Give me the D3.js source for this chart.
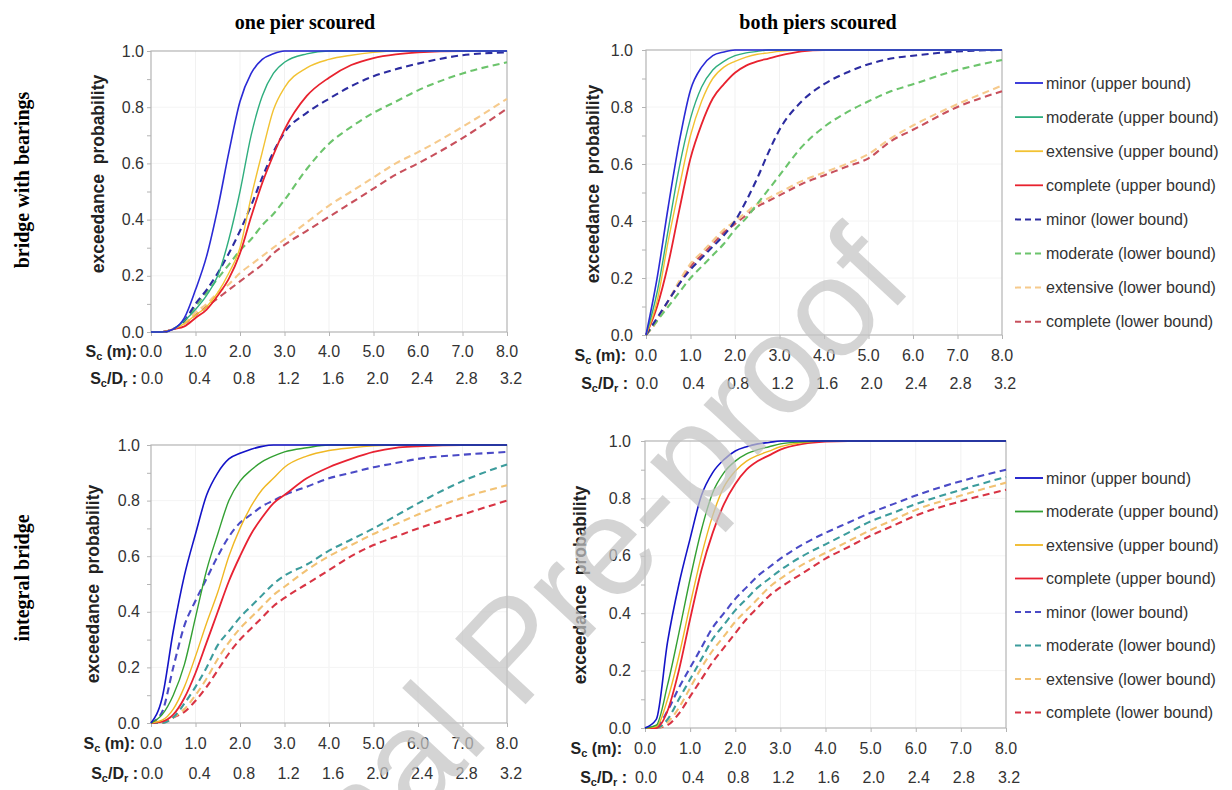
<!DOCTYPE html>
<html>
<head>
<meta charset="utf-8">
<script src="https://cdn.jsdelivr.net/npm/d3@7/dist/d3.min.js"></script>
<style>
  html, body { margin: 0; padding: 0; background: #fff; }
  svg { display: block; }
</style>
</head>
<body>
<svg id="chart" width="1232" height="790"></svg>
<script>
// ---------------- DATA ----------------
const sx = [0, 0.25, 0.5, 0.75, 1, 1.25, 1.5, 1.75, 2, 2.25, 2.5, 2.75, 3, 3.5, 4, 4.5, 5, 5.5, 6, 7, 8];
const xTickSc = ["0.0","1.0","2.0","3.0","4.0","5.0","6.0","7.0","8.0"];
const xTickRatio = ["0.0","0.4","0.8","1.2","1.6","2.0","2.4","2.8","3.2"];
const yTicks = [0, 0.2, 0.4, 0.6, 0.8, 1.0];
const colTitles = ["one pier scoured", "both piers scoured"];
const rowTitles = ["bridge with bearings", "integral bridge"];
const seriesNames = ["minor (upper bound)", "moderate (upper bound)", "extensive (upper bound)", "complete (upper bound)",
                     "minor (lower bound)", "moderate (lower bound)", "extensive (lower bound)", "complete (lower bound)"];

// bridge with bearings, one pier scoured
const bOneMinorUB = [0,0,0.01,0.05,0.15,0.27,0.44,0.64,0.82,0.92,0.97,0.99,1,1,1,1,1,1,1,1,1];
const bOneModerateUB = [0,0,0.01,0.04,0.08,0.13,0.2,0.33,0.5,0.7,0.84,0.92,0.96,0.99,1,1,1,1,1,1,1];
const bOneExtensiveUB = [0,0,0.01,0.03,0.06,0.09,0.14,0.21,0.3,0.48,0.64,0.79,0.87,0.94,0.97,0.985,0.995,1,1,1,1];
const bOneCompleteUB = [0,0,0.01,0.02,0.05,0.08,0.13,0.19,0.28,0.41,0.53,0.63,0.72,0.84,0.905,0.95,0.975,0.988,0.995,1,1];
const bOneMinorLB = [0,0,0.01,0.04,0.1,0.15,0.21,0.28,0.36,0.45,0.55,0.64,0.71,0.78,0.83,0.875,0.91,0.935,0.955,0.985,0.995];
const bOneModerateLB = [0,0,0.01,0.04,0.09,0.14,0.19,0.24,0.29,0.33,0.38,0.42,0.47,0.58,0.67,0.73,0.78,0.82,0.86,0.92,0.96];
const bOneExtensiveLB = [0,0,0.01,0.03,0.07,0.1,0.14,0.17,0.21,0.24,0.27,0.3,0.33,0.39,0.45,0.5,0.55,0.6,0.64,0.73,0.83];
const bOneCompleteLB = [0,0,0.01,0.03,0.06,0.09,0.12,0.15,0.18,0.21,0.24,0.28,0.31,0.36,0.41,0.46,0.51,0.56,0.6,0.69,0.795];

// bridge with bearings, both piers scoured
const bBothMinorUB = [0,0.2,0.45,0.68,0.86,0.94,0.98,0.993,1,1,1,1,1,1,1,1,1,1,1,1,1];
const bBothModerateUB = [0,0.15,0.37,0.59,0.76,0.87,0.93,0.96,0.98,0.99,0.995,1,1,1,1,1,1,1,1,1,1];
const bBothExtensiveUB = [0,0.12,0.33,0.52,0.7,0.82,0.9,0.94,0.96,0.975,0.985,0.99,0.995,1,1,1,1,1,1,1,1];
const bBothCompleteUB = [0,0.1,0.25,0.44,0.62,0.74,0.83,0.88,0.92,0.945,0.96,0.97,0.98,0.995,1,1,1,1,1,1,1];
const bBothMinorLB = [0,0.06,0.12,0.18,0.23,0.27,0.31,0.35,0.4,0.47,0.55,0.64,0.72,0.82,0.88,0.92,0.95,0.97,0.98,0.995,1];
const bBothModerateLB = [0,0.05,0.1,0.15,0.2,0.24,0.28,0.32,0.37,0.41,0.46,0.51,0.56,0.66,0.73,0.78,0.82,0.855,0.88,0.93,0.965];
const bBothExtensiveLB = [0,0.05,0.12,0.19,0.25,0.29,0.33,0.37,0.4,0.43,0.46,0.48,0.5,0.54,0.57,0.6,0.635,0.69,0.735,0.81,0.875];
const bBothCompleteLB = [0,0.05,0.12,0.18,0.24,0.28,0.32,0.36,0.39,0.42,0.45,0.47,0.49,0.53,0.56,0.59,0.62,0.68,0.72,0.8,0.855];

// integral bridge, one pier scoured
const iOneMinorUB = [0,0.09,0.33,0.53,0.68,0.82,0.9,0.95,0.97,0.985,0.995,1,1,1,1,1,1,1,1,1,1];
const iOneModerateUB = [0,0.03,0.1,0.21,0.38,0.55,0.68,0.8,0.87,0.91,0.94,0.96,0.975,0.99,1,1,1,1,1,1,1];
const iOneExtensiveUB = [0,0.01,0.05,0.13,0.24,0.36,0.47,0.6,0.7,0.78,0.84,0.88,0.92,0.96,0.98,0.99,0.997,1,1,1,1];
const iOneCompleteUB = [0,0.005,0.03,0.09,0.18,0.29,0.4,0.51,0.6,0.68,0.74,0.79,0.82,0.88,0.92,0.95,0.975,0.99,0.995,1,1];
const iOneMinorLB = [0,0.04,0.2,0.35,0.44,0.52,0.6,0.67,0.72,0.75,0.78,0.8,0.82,0.85,0.88,0.9,0.92,0.935,0.95,0.965,0.975];
const iOneModerateLB = [0,0,0.02,0.07,0.13,0.2,0.28,0.33,0.38,0.42,0.46,0.5,0.53,0.57,0.62,0.66,0.7,0.745,0.79,0.87,0.93];
const iOneExtensiveLB = [0,0,0.02,0.05,0.1,0.16,0.23,0.29,0.34,0.38,0.42,0.46,0.49,0.55,0.6,0.64,0.68,0.715,0.75,0.81,0.855];
const iOneCompleteLB = [0,0,0.02,0.04,0.08,0.13,0.19,0.25,0.3,0.34,0.38,0.42,0.45,0.5,0.55,0.6,0.64,0.67,0.7,0.75,0.8];

// integral bridge, both piers scoured
const iBothMinorUB = [0,0.03,0.3,0.5,0.66,0.81,0.89,0.935,0.965,0.98,0.99,0.995,1,1,1,1,1,1,1,1,1];
const iBothModerateUB = [0,0.01,0.15,0.33,0.52,0.69,0.82,0.89,0.93,0.955,0.97,0.98,0.99,0.997,1,1,1,1,1,1,1];
const iBothExtensiveUB = [0,0.005,0.1,0.25,0.43,0.6,0.74,0.84,0.895,0.93,0.95,0.965,0.98,0.995,1,1,1,1,1,1,1];
const iBothCompleteUB = [0,0,0.06,0.2,0.38,0.55,0.68,0.78,0.85,0.9,0.93,0.95,0.97,0.99,0.998,1,1,1,1,1,1];
const iBothMinorLB = [0,0.005,0.06,0.14,0.21,0.28,0.35,0.4,0.45,0.49,0.53,0.56,0.59,0.64,0.68,0.715,0.75,0.78,0.81,0.86,0.9];
const iBothModerateLB = [0,0,0.03,0.1,0.17,0.24,0.31,0.36,0.41,0.45,0.49,0.52,0.55,0.6,0.64,0.68,0.72,0.75,0.78,0.83,0.875];
const iBothExtensiveLB = [0,0,0.02,0.07,0.14,0.21,0.27,0.32,0.37,0.41,0.45,0.49,0.52,0.57,0.61,0.65,0.69,0.725,0.76,0.81,0.855];
const iBothCompleteLB = [0,0,0.01,0.05,0.11,0.17,0.23,0.28,0.33,0.38,0.42,0.46,0.49,0.54,0.59,0.63,0.67,0.705,0.74,0.79,0.83];

// ---------------- STYLE / LAYOUT ----------------
const topColors = ["#2a2ad6", "#2fae7e", "#f2c232", "#e8222e", "#2c2ca0", "#6cc46c", "#f6ca8c", "#c8505c"];
const botColors = ["#1414c8", "#33a033", "#f0b824", "#e82232", "#4a4ac6", "#3c9c9c", "#f2c274", "#d83444"];
const widths = [1.6, 1.4, 1.4, 1.8, 2.1, 2.1, 2.1, 2.1];

const panels = [
  { data: [bOneMinorUB,bOneModerateUB,bOneExtensiveUB,bOneCompleteUB,bOneMinorLB,bOneModerateLB,bOneExtensiveLB,bOneCompleteLB],
    colors: topColors, x0: 151, x1: 507, yT: 51, yB: 332, titleX: 98, titleY: 174, scY: 351, rtY: 378, scEnd: 137, rtEnd: 137, rtOff: 4, gap: 7 },
  { data: [bBothMinorUB,bBothModerateUB,bBothExtensiveUB,bBothCompleteUB,bBothMinorLB,bBothModerateLB,bBothExtensiveLB,bBothCompleteLB],
    colors: topColors, x0: 646, x1: 1002, yT: 50, yB: 335, titleX: 593, titleY: 184, scY: 355, rtY: 383, scEnd: 626, rtEnd: 628, rtOff: 3, gap: 13 },
  { data: [iOneMinorUB,iOneModerateUB,iOneExtensiveUB,iOneCompleteUB,iOneMinorLB,iOneModerateLB,iOneExtensiveLB,iOneCompleteLB],
    colors: botColors, x0: 151, x1: 507, yT: 445, yB: 723, titleX: 93, titleY: 584, scY: 743, rtY: 773, scEnd: 135, rtEnd: 138, rtOff: 4, gap: 11 },
  { data: [iBothMinorUB,iBothModerateUB,iBothExtensiveUB,iBothCompleteUB,iBothMinorLB,iBothModerateLB,iBothExtensiveLB,iBothCompleteLB],
    colors: botColors, x0: 645, x1: 1006, yT: 441, yB: 728, titleX: 580, titleY: 585, scY: 748, rtY: 777, scEnd: 622, rtEnd: 627, rtOff: 3, gap: 14 }
];
const legends = [
  { colors: topColors, x: 1015, y0: 83, dy: 34.1 },
  { colors: botColors, x: 1015, y0: 478, dy: 33.5 }
];

const svg = d3.select("#chart");
const SANS = "'Liberation Sans', Arial, Helvetica, sans-serif";
const SERIF = "'Liberation Serif', 'Times New Roman', serif";

svg.append("rect").attr("width", 1232).attr("height", 790).attr("fill", "#fff");

// column & row titles
svg.selectAll("text.coltitle").data(colTitles).join("text")
  .attr("class", "coltitle")
  .attr("x", (d, i) => [305, 818][i]).attr("y", 29)
  .attr("text-anchor", "middle").attr("font-family", SERIF).attr("font-weight", "bold")
  .attr("font-size", 20).attr("fill", "#000").text(d => d);

svg.selectAll("text.rowtitle").data(rowTitles).join("text")
  .attr("class", "rowtitle")
  .attr("transform", (d, i) => `translate(29,${[180, 578][i]}) rotate(-90)`)
  .attr("text-anchor", "middle").attr("font-family", SERIF).attr("font-weight", "bold")
  .attr("font-size", 20).attr("fill", "#000").text(d => d);

function subLabel(g, x, y, parts) {
  const t = g.append("text").attr("x", x).attr("y", y).attr("dy", "0.35em")
    .attr("text-anchor", "end").attr("font-family", SANS).attr("font-weight", "bold")
    .attr("font-size", 16).attr("fill", "#222").style("white-space", "pre");
  parts.forEach(p => {
    const s = t.append("tspan").text(p[0]);
    if (p[1] === "sub") s.attr("font-size", 11).attr("dy", 3);
    else if (p[1] === "up") s.attr("dy", -3);
  });
}

panels.forEach(p => {
  const g = svg.append("g");
  const x = d3.scaleLinear().domain([0, 8]).range([p.x0, p.x1]);
  const y = d3.scaleLinear().domain([0, 1]).range([p.yB, p.yT]);

  // faint grid
  g.append("g").selectAll("line").data(d3.range(1, 8)).join("line")
    .attr("x1", d => x(d)).attr("x2", d => x(d)).attr("y1", y(0)).attr("y2", y(1))
    .attr("stroke", "#f1f1f1").attr("stroke-width", 1);
  g.append("g").selectAll("line").data([0.2, 0.4, 0.6, 0.8]).join("line")
    .attr("x1", x(0)).attr("x2", x(8)).attr("y1", d => y(d)).attr("y2", d => y(d))
    .attr("stroke", "#f4f4f4").attr("stroke-width", 1);

  // frame
  g.append("rect").attr("x", x(0)).attr("y", y(1)).attr("width", x(8) - x(0)).attr("height", y(0) - y(1))
    .attr("fill", "none").attr("stroke", "#b4b4b4").attr("stroke-width", 1.2);

  // y axis
  const yAxis = d3.axisLeft(y).tickValues(d3.range(0, 1.01, 0.1)).tickSize(4).tickFormat("");
  const ya = g.append("g").attr("transform", `translate(${x(0)},0)`).call(yAxis);
  ya.select(".domain").remove();
  ya.selectAll(".tick line").attr("stroke", "#b4b4b4");
  g.append("g").selectAll("text").data(yTicks).join("text")
    .attr("x", x(0) - p.gap).attr("y", d => y(d)).attr("dy", "0.35em")
    .attr("text-anchor", "end").attr("font-family", SANS).attr("font-size", 16).attr("fill", "#333")
    .text(d => d.toFixed(1));

  // x axis ticks
  const xAxis = d3.axisBottom(x).tickValues(d3.range(0, 9)).tickSize(4).tickFormat("");
  const xa = g.append("g").attr("transform", `translate(0,${y(0)})`).call(xAxis);
  xa.select(".domain").remove();
  xa.selectAll(".tick line").attr("stroke", "#b4b4b4");

  g.append("g").selectAll("text").data(xTickSc).join("text")
    .attr("x", (d, i) => x(i)).attr("y", p.scY).attr("dy", "0.35em")
    .attr("text-anchor", "middle").attr("font-family", SANS).attr("font-size", 16).attr("fill", "#333")
    .text(d => d);
  g.append("g").selectAll("text").data(xTickRatio).join("text")
    .attr("x", (d, i) => x(i) + (i === 0 ? 1 : p.rtOff)).attr("y", p.rtY).attr("dy", "0.35em")
    .attr("text-anchor", "middle").attr("font-family", SANS).attr("font-size", 16).attr("fill", "#333")
    .text(d => d);

  subLabel(g, p.scEnd, p.scY, [["S"], ["c", "sub"], [" (m):", "up"]]);
  subLabel(g, p.rtEnd, p.rtY, [["S"], ["c", "sub"], ["/D", "up"], ["r", "sub"], [" :", "up"]]);

  // y title
  g.append("text").attr("transform", `translate(${p.titleX},${p.titleY}) rotate(-90)`)
    .attr("dy", "0.35em").attr("text-anchor", "middle").attr("font-family", SANS).attr("font-weight", "bold")
    .attr("font-size", 17.5).attr("fill", "#222").style("white-space", "pre")
    .text("exceedance  probability");

  // curves
  const line = d3.line().x((d, i) => x(sx[i])).y(d => y(d)).curve(d3.curveMonotoneX);
  const order = [7, 6, 5, 4, 3, 2, 1, 0];
  order.forEach(k => {
    g.append("path").datum(p.data[k]).attr("d", line)
      .attr("fill", "none").attr("stroke", p.colors[k]).attr("stroke-width", widths[k])
      .attr("stroke-dasharray", k >= 4 ? "7,4.5" : null)
      .attr("stroke-linecap", "butt");
  });
});

// legends
legends.forEach(L => {
  const g = svg.append("g");
  seriesNames.forEach((name, k) => {
    const yy = L.y0 + k * L.dy;
    g.append("line").attr("x1", L.x).attr("x2", L.x + 28).attr("y1", yy).attr("y2", yy)
      .attr("stroke", L.colors[k]).attr("stroke-width", k >= 4 ? 2 : 1.8)
      .attr("stroke-dasharray", k >= 4 ? "6,4" : null);
    g.append("text").attr("x", L.x + 31).attr("y", yy).attr("dy", "0.35em")
      .attr("font-family", SANS).attr("font-size", 16).attr("fill", "#333").text(name);
  });
});

// watermark
svg.append("text")
  .attr("transform", "translate(178,1077) rotate(-47)")
  .attr("font-family", SANS).attr("font-size", 140).attr("fill", "#c4c4c4").attr("fill-opacity", 0.72)
  .text("Journal Pre-proof");
</script>
</body>
</html>
